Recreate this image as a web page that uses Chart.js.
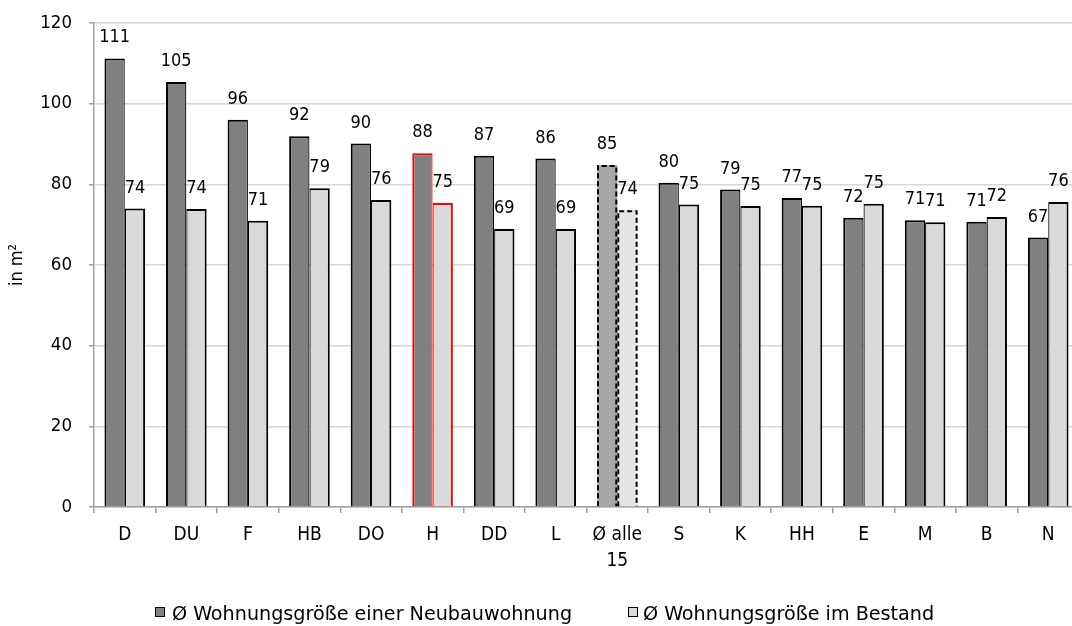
<!DOCTYPE html>
<html>
<head>
<meta charset="utf-8">
<script src="https://cdn.jsdelivr.net/npm/chart.js@4.4.1/dist/chart.umd.min.js"></script>
<style>
  html, body { margin: 0; padding: 0; background: #fff; overflow: hidden; width: 1072px; height: 626px; }
  #wrap { position: relative; width: 1082px; height: 626px; }
  canvas { display: block; }
  .box { position: absolute; top: 607px; width: 8px; height: 8px; border: 1.5px solid #000; }
  .txt { position: absolute; top: 601px; font-family: "DejaVu Sans Condensed", "DejaVu Sans", sans-serif; font-size: 20px; line-height: 24px; color: #000; white-space: nowrap; transform: scaleX(1.065); transform-origin: left center; }
</style>
</head>
<body>
<div id="wrap">
  <canvas id="c" width="1082" height="626"></canvas>
  <div class="box" style="left:155px; background:#808080"></div>
  <div class="txt" id="lg1" style="left:172px"></div>
  <div class="box" style="left:628px; background:#d9d9d9"></div>
  <div class="txt" id="lg2" style="left:643px"></div>
</div>
<script>
const categories = ['D', 'DU', 'F', 'HB', 'DO', 'H', 'DD', 'L', ['Ø alle', '15'], 'S', 'K', 'HH', 'E', 'M', 'B', 'N'];
const neubau   = [111.2, 105.4, 96.0, 91.9, 90.1, 87.7, 87.1, 86.4, 84.8, 80.4, 78.7, 76.6, 71.7, 71.1, 70.7, 66.8];
const bestand  = [74.0, 73.9, 71.0, 79.0, 76.1, 75.4, 68.9, 68.9, 73.6, 75.0, 74.6, 74.7, 75.2, 70.6, 71.9, 75.6];
const seriesNames = ['Ø Wohnungsgröße einer Neubauwohnung', 'Ø Wohnungsgröße im Bestand'];
const yTicks = [0, 20, 40, 60, 80, 100, 120];
const yTitle = 'in m²';
const highlightIndex = 5;   // H
const averageIndex = 8;     // Ø alle 15

document.getElementById('lg1').textContent = seriesNames[0];
document.getElementById('lg2').textContent = seriesNames[1];

const FONT = '"DejaVu Sans Condensed", "DejaVu Sans", sans-serif';
const AXIS = '#a0a0a0';

function fills(base, avg) {
  return categories.map((_, i) => i === averageIndex ? avg : base);
}
function borders() {
  return categories.map((_, i) => i === highlightIndex ? '#ff0000' : '#000000');
}

const dashedBorders = {
  id: 'dashedBorders',
  afterDatasetsDraw(chart) {
    const ctx = chart.ctx;
    ctx.save();
    ctx.strokeStyle = '#000';
    ctx.lineWidth = 2;
    ctx.setLineDash([5, 3]);
    chart.data.datasets.forEach((ds, i) => {
      const bar = chart.getDatasetMeta(i).data[averageIndex];
      const p = bar.getProps(['x', 'y', 'base', 'width'], true);
      const l = p.x - p.width / 2 + 1, r = p.x + p.width / 2 - 1;
      ctx.beginPath();
      ctx.moveTo(l, p.base);
      ctx.lineTo(l, p.y + 1);
      ctx.lineTo(r, p.y + 1);
      ctx.lineTo(r, p.base);
      ctx.stroke();
    });
    ctx.restore();
  }
};

const valueLabels = {
  id: 'valueLabels',
  afterDatasetsDraw(chart) {
    const ctx = chart.ctx;
    ctx.save();
    ctx.font = '18px ' + FONT;
    ctx.fillStyle = '#000';
    ctx.textAlign = 'center';
    ctx.textBaseline = 'alphabetic';
    chart.data.datasets.forEach((ds, i) => {
      chart.getDatasetMeta(i).data.forEach((bar, j) => {
        ctx.fillText(String(Math.round(ds.data[j])), bar.x, bar.y - 16);
      });
    });
    ctx.restore();
  }
};

new Chart(document.getElementById('c'), {
  type: 'bar',
  data: {
    labels: categories,
    datasets: [
      {
        label: seriesNames[0],
        data: neubau,
        backgroundColor: fills('#808080', '#a6a6a6'),
        borderColor: borders(),
        borderWidth: ctx => ctx.dataIndex === averageIndex ? 0 : { top: 2, left: 2, right: 1.2, bottom: 0 },
        categoryPercentage: 0.66,
        barPercentage: 1.0
      },
      {
        label: seriesNames[1],
        data: bestand,
        backgroundColor: fills('#d9d9d9', '#e6e6e6'),
        borderColor: borders(),
        borderWidth: ctx => ctx.dataIndex === averageIndex ? 0 : { top: 2, left: 1.2, right: 2, bottom: 0 },
        categoryPercentage: 0.66,
        barPercentage: 1.0
      }
    ]
  },
  options: {
    responsive: false,
    animation: false,
    devicePixelRatio: 1,
    layout: { padding: { top: 23, right: 3, left: 0, bottom: 49 } },
    plugins: {
      legend: { display: false },
      tooltip: { enabled: false }
    },
    scales: {
      x: {
        offset: true,
        grid: { display: true, drawOnChartArea: false, drawTicks: true, tickLength: 6, color: AXIS, lineWidth: 1.5, offset: true },
        border: { display: true, color: AXIS, width: 1.5 },
        ticks: { color: '#000', font: { family: FONT, size: 19, lineHeight: 1.37 }, padding: 9, maxRotation: 0, autoSkip: false },
        afterFit(scale) { scale.height = 70; }
      },
      y: {
        min: 0,
        max: 120,
        afterBuildTicks(scale) { scale.ticks = yTicks.map(v => ({ value: v })); },
        grid: { color: '#d6d6d6', lineWidth: 1.5, tickColor: AXIS, tickLength: 5 },
        border: { display: true, color: AXIS, width: 1.5 },
        ticks: { color: '#000', font: { family: FONT, size: 18.5 }, padding: 17 },
        title: { display: true, text: yTitle, color: '#000', font: { family: FONT, size: 18 }, padding: { top: 7, bottom: 0 } },
        afterFit(scale) { scale.width = 94; scale.paddingTop = 0; scale.paddingBottom = 0; }
      }
    }
  },
  plugins: [dashedBorders, valueLabels]
});
</script>
</body>
</html>
